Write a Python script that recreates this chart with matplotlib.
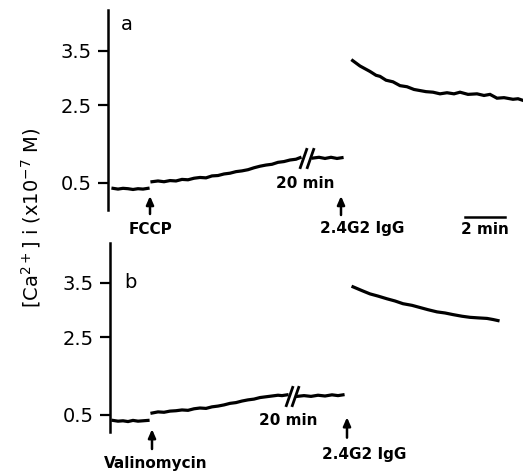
import numpy as np
import matplotlib
matplotlib.use("Agg")
import matplotlib.pyplot as plt
from matplotlib.path import Path

# ---- calibration of the [Ca2+] axis (non linear, fluorescence derived) ----
CAL_CONC = [-1.0, 0.5, 2.5, 3.5, 5.0]
CAL_POS = [-58.0, 0.0, 77.5, 132.0, 232.0]

YTICKS = [0.5, 2.5, 3.5]
YTICK_LABELS = ["0.5", "2.5", "3.5"]

# ---- panel a (time in min, [Ca2+]i in 1e-7 M) ----
a_base_t = [0.25, 0.5, 0.75, 1.0, 1.25, 1.5, 1.75, 2.0]
a_base_c = [0.36, 0.34, 0.36, 0.35, 0.33, 0.35, 0.34, 0.36]
a_rise1_t = [2.2, 2.5, 2.8, 3.1, 3.4, 3.7, 4.0, 4.3, 4.6, 4.9, 5.2, 5.5, 5.8,
             6.1, 6.4, 6.7, 7.0, 7.3, 7.6, 7.9, 8.2, 8.5, 8.8, 9.1, 9.4, 9.6]
a_rise1_c = [0.53, 0.55, 0.53, 0.56, 0.55, 0.59, 0.58, 0.62, 0.64, 0.63, 0.68,
             0.69, 0.73, 0.75, 0.79, 0.81, 0.84, 0.89, 0.93, 0.96, 0.98, 1.03,
             1.05, 1.09, 1.11, 1.15]
a_rise2_t = [10.25, 10.55, 10.85, 11.15, 11.45, 11.7]
a_rise2_c = [1.14, 1.16, 1.13, 1.16, 1.13, 1.15]
a_igg_t = [12.23, 12.6, 13.1, 13.4, 13.6, 13.9, 14.25, 14.6, 14.95, 15.3, 15.6,
           15.9, 16.25, 16.6, 16.95, 17.3, 17.6, 18.0, 18.45, 18.8, 19.1,
           19.45, 19.8, 20.25, 20.5, 20.75]
a_igg_c = [3.32, 3.22, 3.12, 3.05, 3.03, 2.96, 2.93, 2.86, 2.84, 2.79, 2.77,
           2.75, 2.74, 2.71, 2.73, 2.71, 2.74, 2.70, 2.71, 2.68, 2.70, 2.63,
           2.64, 2.61, 2.62, 2.59]

# ---- panel b ----
b_base_t = [0.15, 0.4, 0.65, 0.9, 1.15, 1.4, 1.65, 1.9]
b_base_c = [0.36, 0.34, 0.35, 0.33, 0.36, 0.34, 0.35, 0.36]
b_rise1_t = [2.1, 2.4, 2.7, 3.0, 3.3, 3.6, 3.9, 4.2, 4.5, 4.8, 5.1, 5.4, 5.7,
             6.0, 6.3, 6.6, 6.9, 7.2, 7.5, 7.8, 8.1, 8.4, 8.6, 8.85]
b_rise1_c = [0.55, 0.58, 0.57, 0.60, 0.61, 0.63, 0.62, 0.66, 0.68, 0.67, 0.71,
             0.73, 0.76, 0.80, 0.82, 0.86, 0.89, 0.91, 0.95, 0.97, 0.99, 1.01,
             1.00, 1.02]
b_rise2_t = [9.35, 9.7, 10.05, 10.4, 10.75, 11.1, 11.4, 11.65]
b_rise2_c = [0.98, 1.00, 0.98, 1.01, 0.99, 1.02, 1.00, 1.02]
b_igg_t = [12.15, 12.6, 13.0, 13.4, 13.85, 14.25, 14.65, 15.1, 15.5, 15.9,
           16.35, 16.75, 17.15, 17.6, 18.0, 18.4, 18.85, 19.15, 19.4]
b_igg_c = [3.43, 3.36, 3.30, 3.26, 3.21, 3.17, 3.12, 3.09, 3.05, 3.01, 2.97,
           2.95, 2.92, 2.89, 2.87, 2.86, 2.85, 2.83, 2.81]


def fwd(c):
    return np.interp(c, CAL_CONC, CAL_POS)


def inv(p):
    return np.interp(p, CAL_POS, CAL_CONC)


SLASH = Path([(-0.35, -1.0), (0.35, 1.0)])
LW = 2.3
FS_TXT = 11


def setup(ax, ylim, xmax):
    ax.set_yscale("function", functions=(fwd, inv))
    ax.set_ylim(*ylim)
    ax.set_xlim(0, xmax)
    for s in ["top", "right", "bottom"]:
        ax.spines[s].set_visible(False)
    ax.spines["left"].set_linewidth(1.8)
    ax.set_xticks([])
    ax.set_yticks(YTICKS)
    ax.set_yticklabels(YTICK_LABELS)
    ax.yaxis.set_minor_locator(matplotlib.ticker.NullLocator())
    ax.tick_params(axis="y", length=7, width=1.6, labelsize=14, pad=5)
    ax.patch.set_alpha(0)


def trace(ax, parts):
    for t, c in parts:
        ax.plot(t, c, color="k", lw=LW, solid_joinstyle="miter", clip_on=False)


def breakmark(ax, t1, c1, t2, c2, dx):
    xm = (t1[-1] + t2[0]) / 2
    ym = inv((fwd(c1[-1]) + fwd(c2[0])) / 2)
    ax.plot([xm - dx, xm + dx], [ym, ym], ls="none", marker=SLASH, ms=15,
            mew=2.0, color="k", clip_on=False)


def arrow(ax, x, y_tip, y_tail, label, y_text, x_text=None):
    tr = ax.get_xaxis_transform()
    ax.annotate("", xy=(x, y_tip), xytext=(x, y_tail), xycoords=tr, textcoords=tr,
                arrowprops=dict(arrowstyle="-|>,head_length=0.5,head_width=0.22",
                                color="k", lw=1.8, shrinkA=0, shrinkB=0),
                annotation_clip=False)
    ax.text(x if x_text is None else x_text, y_text, label, transform=tr,
            ha="center", va="center", fontsize=FS_TXT, fontweight="bold")


fig = plt.figure(figsize=(5.23, 4.73), dpi=100)
ax_a = fig.add_axes([108 / 523, 1 - 210 / 473, 415 / 523, 200 / 473])
ax_b = fig.add_axes([110 / 523, 1 - 432 / 473, 413 / 523, 189 / 473])

# panel a
setup(ax_a, (-0.2, 4.11), 20.75)
trace(ax_a, [(a_base_t, a_base_c), (a_rise1_t, a_rise1_c),
             (a_rise2_t, a_rise2_c), (a_igg_t, a_igg_c)])
breakmark(ax_a, a_rise1_t, a_rise1_c, a_rise2_t, a_rise2_c, 0.18)
ax_a.text(0.95, 0.925, "a", transform=ax_a.get_xaxis_transform(),
          ha="center", va="center", fontsize=14)
arrow(ax_a, 2.1, 0.07, -0.02, "FCCP", -0.10)
ax_a.text(9.85, 0.13, "20 min", transform=ax_a.get_xaxis_transform(),
          ha="center", va="center", fontsize=FS_TXT, fontweight="bold")
arrow(ax_a, 11.65, 0.07, -0.025, "2.4G2 IgG", -0.09, x_text=12.7)
tr = ax_a.get_xaxis_transform()
ax_a.plot([17.85, 19.85], [-0.035, -0.035], color="k", lw=1.8,
          transform=tr, clip_on=False)
ax_a.text(18.85, -0.10, "2 min", transform=tr, ha="center", va="center",
          fontsize=FS_TXT, fontweight="bold")

# panel b
setup(ax_b, (0.06, 4.10), 20.65)
trace(ax_b, [(b_base_t, b_base_c), (b_rise1_t, b_rise1_c),
             (b_rise2_t, b_rise2_c), (b_igg_t, b_igg_c)])
breakmark(ax_b, b_rise1_t, b_rise1_c, b_rise2_t, b_rise2_c, 0.16)
ax_b.text(1.0, 0.79, "b", transform=ax_b.get_xaxis_transform(),
          ha="center", va="center", fontsize=14)
arrow(ax_b, 2.1, 0.015, -0.09, "Valinomycin", -0.165, x_text=2.3)
ax_b.text(8.9, 0.063, "20 min", transform=ax_b.get_xaxis_transform(),
          ha="center", va="center", fontsize=FS_TXT, fontweight="bold")
arrow(ax_b, 11.85, 0.078, -0.03, "2.4G2 IgG", -0.12, x_text=12.7)

fig.text(31 / 523, 1 - 218 / 473, r"$\left[\mathrm{Ca}^{2+}\right]$ i (x10$^{-7}$ M)",
         rotation=90, ha="center", va="center", fontsize=14)

fig.savefig("out.png", dpi=100)
plt.close(fig)
